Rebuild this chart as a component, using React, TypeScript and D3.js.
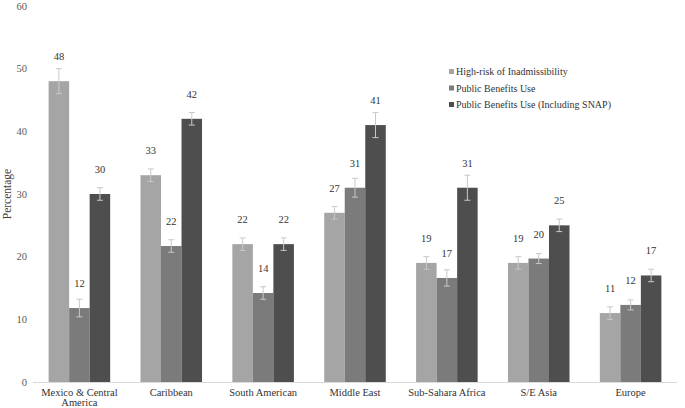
import React from "react";
import * as d3 from "d3";

const categories = ["Mexico & Central America", "Caribbean", "South American", "Middle East", "Sub-Sahara Africa", "S/E Asia", "Europe"];
const seriesNames = ["High-risk of Inadmissibility", "Public Benefits Use", "Public Benefits Use (Including SNAP)"];
const highRisk = [48, 33, 22, 27, 19, 19, 11];
const benefits = [11.8, 21.7, 14.2, 31, 16.6, 19.7, 12.3];
const benefitsSnap = [30, 42, 22, 41, 31, 25, 17];
const highRiskErr = [2, 1, 1, 1, 1, 1, 1];
const benefitsErr = [1.4, 1, 1, 1.5, 1.3, 0.8, 0.8];
const benefitsSnapErr = [1, 1, 1, 2, 2, 1, 1];
const yTicks = [0, 10, 20, 30, 40, 50, 60];
const colors = ["#a5a5a5", "#7b7b7b", "#4e4e4e"];

const W = 685, H = 408;
const FONT = '"Liberation Serif", "Times New Roman", Times, serif';

export default function App() {
  const x = d3.scaleBand<string>().domain(categories).range([33, 677]).paddingInner(0.33).paddingOuter(0.17);
  const xs = d3.scaleBand<number>().domain([0, 1, 2]).range([0, x.bandwidth()]);
  const y = d3.scaleLinear().domain([0, 60]).range([382, 6]);
  const series = [highRisk, benefits, benefitsSnap];
  const errs = [highRiskErr, benefitsErr, benefitsSnapErr];

  const wrap = (s: string) => (s === "Mexico & Central America" ? ["Mexico & Central", "America"] : [s]);

  return (
    <svg width={W} height={H} style={{ position: "absolute", left: 0, top: 0, background: "#fff", fontFamily: FONT }}>
      {yTicks.map((t) => (
        <text key={t} x={27} y={y(t) + 3.5} textAnchor="end" fontSize={10.5} fill="#595959" style={{ fontFamily: FONT }}>{t}</text>
      ))}
      <text transform={`translate(11,${y(30)}) rotate(-90)`} textAnchor="middle" fontSize={11.5} fill="#404040" style={{ fontFamily: FONT }}>Percentage</text>
      {categories.map((c, ci) => (
        <g key={c}>
          {series.map((s, si) => {
            const bx = (x(c) as number) + (xs(si) as number);
            const bw = xs.bandwidth();
            const v = s[ci];
            const e = errs[si][ci];
            const cx = bx + bw / 2;
            return (
              <g key={si}>
                <rect x={bx} y={y(v)} width={bw} height={y(0) - y(v)} fill={colors[si]} />
                <line x1={cx} x2={cx} y1={y(v + e)} y2={y(v - e)} stroke="#c9c9c9" strokeWidth={1} />
                <line x1={cx - 3} x2={cx + 3} y1={y(v + e)} y2={y(v + e)} stroke="#c9c9c9" strokeWidth={1} />
                <line x1={cx - 3} x2={cx + 3} y1={y(v - e)} y2={y(v - e)} stroke="#c9c9c9" strokeWidth={1} />
                <text x={cx} y={y(v) - 21} textAnchor="middle" fontSize={10.5} fill="#333" style={{ fontFamily: FONT }}>{Math.round(v)}</text>
              </g>
            );
          })}
          {wrap(c).map((line, li) => (
            <text key={li} x={(x(c) as number) + x.bandwidth() / 2} y={396 + li * 10} textAnchor="middle" fontSize={10.5} fill="#333" style={{ fontFamily: FONT }}>{line}</text>
          ))}
        </g>
      ))}
      <line x1={33} x2={677} y1={y(0) + 0.5} y2={y(0) + 0.5} stroke="#d9d9d9" strokeWidth={1} />
      {seriesNames.map((n, i) => (
        <g key={n} transform={`translate(449,${72 + i * 16.5})`}>
          <rect x={0} y={-3} width={5} height={5} fill={colors[i]} />
          <text x={7} y={3} fontSize={10} fill="#333" style={{ fontFamily: FONT }}>{n}</text>
        </g>
      ))}
    </svg>
  );
}
